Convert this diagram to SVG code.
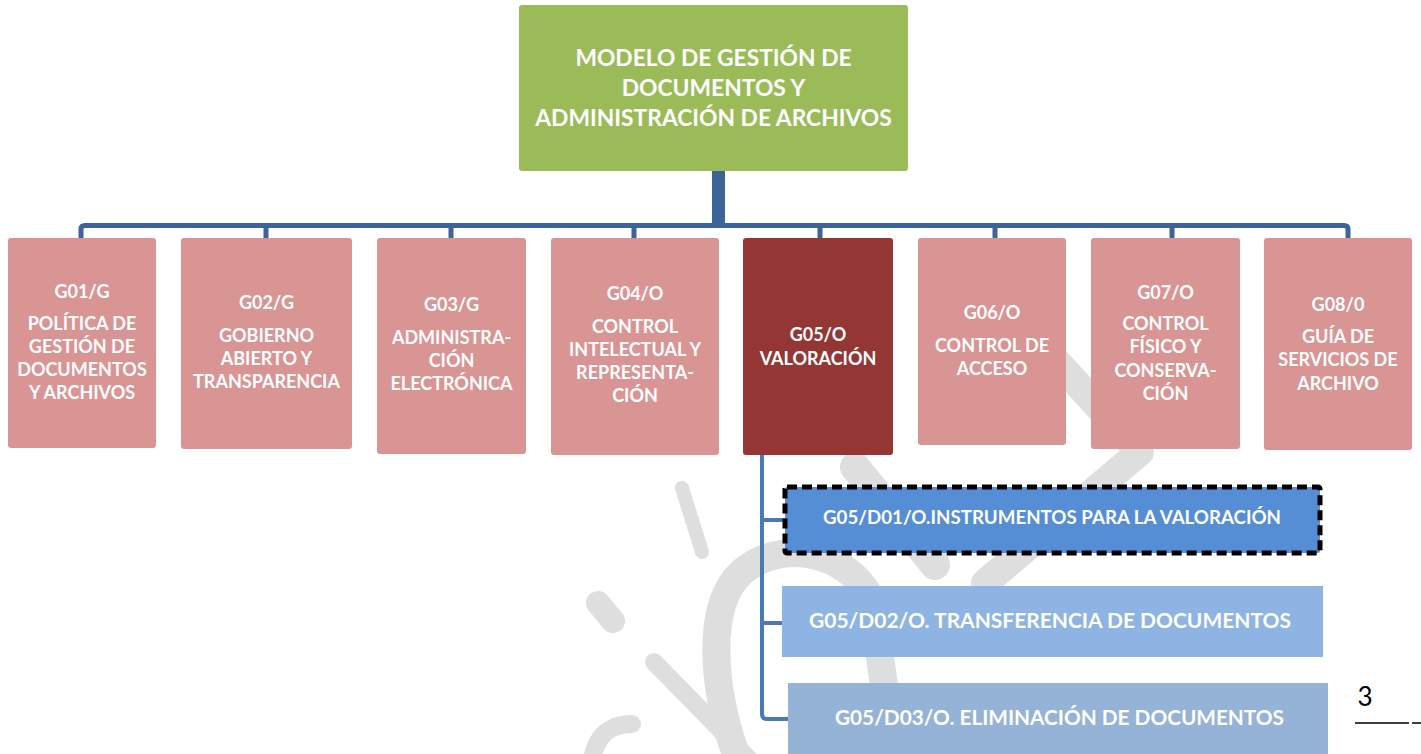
<svg xmlns="http://www.w3.org/2000/svg" width="1421" height="754" viewBox="0 0 1421 754">
<style>
.wm{fill:none;stroke:#dedede;stroke-linecap:round;stroke-linejoin:round}
.pink{fill:#d99594}
.dark{fill:#943634}
.t{font-family:Lato,"Open Sans","Liberation Sans",sans-serif;font-weight:bold;fill:#ffffff;text-anchor:middle}
.bt{font-size:18px}
.bus{fill:none;stroke:#3d6499;stroke-width:5}
.sub{fill:none;stroke:#4a7ab6;stroke-width:4}
</style>
<rect x="0" y="0" width="1421" height="754" fill="#ffffff"/>
<g id="watermark">
<path class="wm" stroke-width="14" d="M682,488 L702,552"/>
<path class="wm" stroke-width="24" d="M598,603 L613,621"/>
<path class="wm" stroke-width="18" d="M654,662 L750,760"/>
<path class="wm" stroke-width="18" d="M632,724 Q598,724 592,760"/>
<path class="wm" stroke-width="28" d="M738,760 C712,690 705,605 742,572 C778,540 845,548 872,600 L886,700"/>
<path class="wm" stroke-width="30" d="M855,467 L935,565"/>
<path class="wm" stroke-width="28" d="M1000,300 L1140,452 L985,583"/>
</g>
<g id="connectors">
<rect x="712" y="170" width="13" height="56" fill="#3d6499"/>
<path class="bus" d="M81,239 V229 Q81,225.5 85,225.5 H1344 Q1348,225.5 1348,229 V239"/>
<path class="bus" d="M266,225 V239 M451,225 V239 M634,225 V239 M820,225 V239 M995,225 V239 M1172,225 V239"/>
<path class="sub" d="M762,455 V714 Q762,719 767,719 H790"/>
<path class="sub" d="M762,520 H785 M762,623 H784"/>
</g>
<g id="root">
<rect x="519" y="5" width="389" height="166" rx="3" fill="#9bbb59"/>
<text class="t" font-size="22.8"><tspan x="713.5" y="66">MODELO DE GESTIÓN DE</tspan><tspan x="713.5" y="96">DOCUMENTOS Y</tspan><tspan x="713.5" y="126">ADMINISTRACIÓN DE ARCHIVOS</tspan></text>
</g>
<g id="g01">
<rect class="pink" x="8" y="238" width="148" height="210" rx="3"/>
<text class="t bt"><tspan x="82" y="298">G01/G</tspan><tspan x="82" y="330">POLÍTICA DE</tspan><tspan x="82" y="353">GESTIÓN DE</tspan><tspan x="82" y="376">DOCUMENTOS</tspan><tspan x="82" y="399">Y ARCHIVOS</tspan></text>
</g>
<g id="g02">
<rect class="pink" x="181" y="238" width="171" height="211" rx="3"/>
<text class="t bt"><tspan x="266.5" y="309">G02/G</tspan><tspan x="266.5" y="342">GOBIERNO</tspan><tspan x="266.5" y="365">ABIERTO Y</tspan><tspan x="266.5" y="388">TRANSPARENCIA</tspan></text>
</g>
<g id="g03">
<rect class="pink" x="377" y="238" width="149" height="216" rx="3"/>
<text class="t bt"><tspan x="451.5" y="311">G03/G</tspan><tspan x="451.5" y="344">ADMINISTRA-</tspan><tspan x="451.5" y="367">CIÓN</tspan><tspan x="451.5" y="390">ELECTRÓNICA</tspan></text>
</g>
<g id="g04">
<rect class="pink" x="551" y="238" width="168" height="217" rx="3"/>
<text class="t bt"><tspan x="635" y="300">G04/O</tspan><tspan x="635" y="333">CONTROL</tspan><tspan x="635" y="356">INTELECTUAL Y</tspan><tspan x="635" y="379">REPRESENTA-</tspan><tspan x="635" y="402">CIÓN</tspan></text>
</g>
<g id="g05">
<rect class="dark" x="743" y="238" width="150" height="217" rx="3"/>
<text class="t bt"><tspan x="818" y="341">G05/O</tspan><tspan x="818" y="365">VALORACIÓN</tspan></text>
</g>
<g id="g06">
<rect class="pink" x="918" y="238" width="148" height="207" rx="3"/>
<text class="t bt"><tspan x="992" y="319">G06/O</tspan><tspan x="992" y="352">CONTROL DE</tspan><tspan x="992" y="375">ACCESO</tspan></text>
</g>
<g id="g07">
<rect class="pink" x="1091" y="238" width="149" height="211" rx="3"/>
<text class="t bt"><tspan x="1165.5" y="299">G07/O</tspan><tspan x="1165.5" y="330">CONTROL</tspan><tspan x="1165.5" y="353">FÍSICO Y</tspan><tspan x="1165.5" y="377">CONSERVA-</tspan><tspan x="1165.5" y="400">CIÓN</tspan></text>
</g>
<g id="g08">
<rect class="pink" x="1264" y="238" width="148" height="212" rx="3"/>
<text class="t bt"><tspan x="1338" y="311">G08/0</tspan><tspan x="1338" y="343">GUÍA DE</tspan><tspan x="1338" y="366">SERVICIOS DE</tspan><tspan x="1338" y="390">ARCHIVO</tspan></text>
</g>
<g id="d01">
<rect x="785" y="487" width="535" height="66" fill="#558ed5" stroke="#000000" stroke-width="5" stroke-dasharray="10,5" rx="2"/>
<text class="t" font-size="18.5" x="1052" y="524" textLength="458" lengthAdjust="spacingAndGlyphs">G05/D01/O.INSTRUMENTOS PARA LA VALORACIÓN</text>
</g>
<g id="d02">
<rect x="782" y="586" width="541" height="71" fill="#8eb4e3"/>
<text class="t" font-size="21" x="1050" y="627.5" textLength="482" lengthAdjust="spacingAndGlyphs">G05/D02/O. TRANSFERENCIA DE DOCUMENTOS</text>
</g>
<g id="d03">
<rect x="788" y="683" width="540" height="75" fill="#95b3d7"/>
<text class="t" font-size="21" x="1059.5" y="725" textLength="449" lengthAdjust="spacingAndGlyphs">G05/D03/O. ELIMINACIÓN DE DOCUMENTOS</text>
</g>
<g id="page-number">
<text x="1365" y="706" font-family="Lato,'Open Sans','Liberation Sans',sans-serif" font-size="26" fill="#000000" text-anchor="middle">3</text>
<path d="M1355,723 H1409 M1412,723 H1421" stroke="#000000" stroke-width="1.7" fill="none"/>
</g>
</svg>
